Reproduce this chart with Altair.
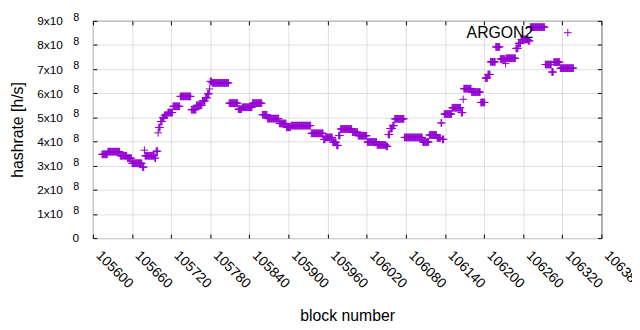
import altair as alt
import numpy as np
import pandas as pd

# Step changes: block where a value starts, hashrate (x1e8 h/s)
change_block = [105614, 105623, 105642, 105653, 105660, 105676, 105679, 105680, 105695, 105697,
                105700, 105701, 105704, 105707, 105710, 105715, 105723, 105734, 105751, 105759,
                105768, 105773, 105776, 105779, 105780, 105783, 105809, 105823, 105829, 105845,
                105860, 105868, 105886, 105897, 105904, 105935, 105954, 105957, 105968, 105974,
                105977, 105980, 105998, 106007, 106021, 106036, 106050, 106053, 106056, 106060,
                106063, 106078, 106106, 106116, 106128, 106134, 106136, 106139, 106151, 106165,
                106168, 106169, 106181, 106195, 106202, 106206, 106210, 106218, 106225, 106233,
                106234, 106249, 106253, 106257, 106268, 106271, 106294, 106304, 106307, 106317]
hashrate_e8 = [3.47, 3.58, 3.41, 3.31, 3.10, 2.94, 3.64, 3.41, 3.31, 3.60,
               4.36, 4.58, 4.83, 4.99, 5.09, 5.20, 5.46, 5.87, 5.32, 5.50,
               5.69, 5.81, 5.98, 6.18, 6.49, 6.43, 5.59, 5.34, 5.42, 5.59,
               5.11, 4.95, 4.75, 4.59, 4.66, 4.34, 4.09, 4.17, 3.97, 3.84,
               4.25, 4.52, 4.39, 4.24, 3.98, 3.86, 3.80, 4.29, 4.54, 4.66,
               4.94, 4.17, 3.98, 4.27, 4.15, 4.77, 4.09, 5.14, 5.40, 5.20,
               5.75, 6.19, 6.05, 5.62, 6.63, 6.78, 7.30, 7.92, 7.42, 7.23,
               7.45, 7.86, 8.07, 8.23, 8.17, 8.74, 7.19, 6.88, 7.29, 7.04]
last_block = 106337
series_name = "ARGON2"
x_ticks = list(range(105600, 106381, 60))
y_ticks = [i * 100000000 for i in range(0, 10)]

blocks = np.arange(change_block[0], last_block + 1)
idx = np.searchsorted(np.array(change_block), blocks, side="right") - 1
df = pd.DataFrame({
    "block": blocks,
    "hashrate": np.array(hashrate_e8)[idx] * 1e8,
    "series": series_name,
})

CROSS = "M-1,0L1,0M0,-1L0,1"
PURPLE = "#9400d3"
FONT = "Liberation Sans"

xscale = alt.Scale(domain=[105600, 106380], nice=False, zero=False)
yscale = alt.Scale(domain=[0, 900000000], nice=False, zero=True)

points = alt.Chart(df).mark_point(
    shape=CROSS, filled=False, strokeWidth=1, size=60, opacity=1
).encode(
    x=alt.X("block:Q", scale=xscale, axis=alt.Axis(
        values=x_ticks, format="d", orient="bottom", offset=-4, tickSize=4, domain=False,
        labelAngle=45, labelAlign="left", labelBaseline="alphabetic", labelPadding=18,
        labelOffset=2, labelFontSize=14, labelOverlap=False, labelFlush=False,
        title="block number", titleFontSize=16, titleFontWeight="normal",
        titleY=87, titleBaseline="alphabetic")),
    y=alt.Y("hashrate:Q", scale=yscale, axis=alt.Axis(
        values=y_ticks, orient="left", offset=-4, tickSize=4, domain=False,
        labelExpr="datum.value == 0 ? '' : format(datum.value / 100000000, 'd') + 'x10'",
        labelPadding=31, labelFontSize=12,
        title="hashrate [h/s]", titleFontSize=16, titleFontWeight="normal",
        titleX=-75, titleBaseline="alphabetic", titleAngle=270)),
    color=alt.Color("series:N", scale=alt.Scale(domain=[series_name], range=[PURPLE]),
                    legend=alt.Legend(orient="none", legendX=473, legendY=4, title=None,
                                      padding=0, symbolType=CROSS, symbolSize=60,
                                      symbolStrokeWidth=1, labelFontSize=16, labelFont=FONT,
                                      labelColor="black", labelAlign="right",
                                      labelOffset={"expr": "-43"},
                                      labelLimit=0)),
)

mirror = alt.Chart(pd.DataFrame({"block": [x_ticks[0]], "hashrate": [0]})).mark_point(opacity=0).encode(
    x=alt.X("block:Q", scale=xscale, axis=alt.Axis(
        values=x_ticks, orient="top", offset=-4, tickSize=4, domain=False, labels=False, title=None)),
    y=alt.Y("hashrate:Q", scale=yscale, axis=alt.Axis(
        values=y_ticks, orient="right", offset=-4, tickSize=4, domain=False, labels=False, title=None)),
)

sup = alt.Chart(pd.DataFrame({"v": y_ticks[1:]})).mark_text(
    text="8", align="left", baseline="middle", dy=-3, fontSize=11, font=FONT, color="black"
).encode(x=alt.value(-20), y=alt.Y("v:Q", scale=yscale, axis=None))

zero = alt.Chart(pd.DataFrame({"v": y_ticks[:1]})).mark_text(
    text="0", align="right", baseline="middle", fontSize=12, font=FONT, color="black"
).encode(x=alt.value(-14), y=alt.Y("v:Q", scale=yscale, axis=None))

chart = alt.layer(points, mirror, sup, zero).resolve_axis(
    x="independent", y="independent"
).properties(
    width=515, height=220,
    autosize=alt.AutoSizeParams(type="none"),
    padding={"left": 86, "top": 11, "right": 31, "bottom": 85},
).configure_view(
    stroke="black", strokeWidth=1
).configure_axis(
    labelFont=FONT, titleFont=FONT, labelColor="black", titleColor="black",
    tickColor="black", tickWidth=1
)

chart.save("out.html", embed_options={"renderer": "svg", "actions": False})
